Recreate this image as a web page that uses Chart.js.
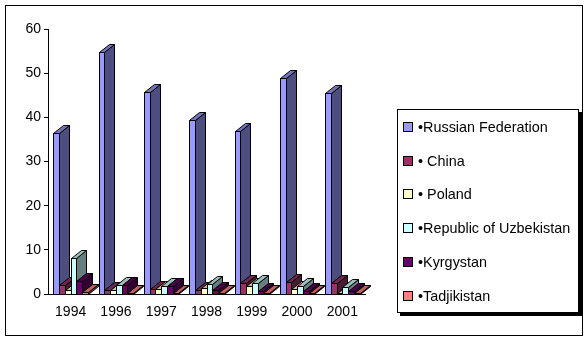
<!DOCTYPE html>
<html>
<head>
<meta charset="utf-8">
<script src="https://cdn.jsdelivr.net/npm/chart.js@4/dist/chart.umd.min.js"></script>
<style>
  html, body { margin: 0; padding: 0; background: #fff; }
  canvas { display: block; }
</style>
</head>
<body>
<canvas id="myChart" width="588" height="340"></canvas>
<script>
// data
const years = ['1994', '1996', '1997', '1998', '1999', '2000', '2001'];
const names = ['\u2022Russian Federation', '\u2022 China', '\u2022 Poland', '\u2022Republic of Uzbekistan', '\u2022Kyrgystan', '\u2022Tadjikistan'];
const russia = [36.4, 54.9, 45.8, 39.5, 36.9, 48.8, 45.4];
const china = [2.0, 0.9, 1.2, 1.0, 2.4, 2.8, 2.6];
const poland = [0.8, 0.8, 1.1, 1.4, 1.8, 1.1, 0.3];
const uzbek = [8.1, 2.0, 1.7, 2.2, 2.5, 1.7, 1.5];
const kyrgyz = [2.9, 2.0, 1.7, 1.0, 0.7, 0.7, 0.7];
const tadj = [0.4, 0.3, 0.3, 0.3, 0.3, 0.3, 0.3];
const yTicks = [0, 10, 20, 30, 40, 50, 60];

const colors = ['#9999FF', '#993366', '#FFFFCC', '#CCFFFF', '#660066', '#FF8080'];
const FONT = 'Liberation Sans, Arial, sans-serif';
const DX = 10, DY = 8;

function shade(hex, f) {
    const n = parseInt(hex.slice(1), 16);
    const r = Math.round(((n >> 16) & 255) * f),
        g = Math.round(((n >> 8) & 255) * f),
        b = Math.round((n & 255) * f);
    return 'rgb(' + r + ',' + g + ',' + b + ')';
}

function face(ctx, pts, fill) {
    ctx.beginPath();
    ctx.moveTo(pts[0][0] + 0.5, pts[0][1] + 0.5);
    for (let i = 1; i < pts.length; i++) ctx.lineTo(pts[i][0] + 0.5, pts[i][1] + 0.5);
    ctx.closePath();
    ctx.fillStyle = fill;
    ctx.fill();
    ctx.stroke();
}

// draws every bar as a 3d column, from the positions the bar elements got
const bars3d = {
    id: 'bars3d',
    beforeDatasetsDraw(chart) {
        const ctx = chart.ctx;
        ctx.save();
        ctx.lineWidth = 1;
        ctx.strokeStyle = '#000';
        ctx.lineJoin = 'miter';
        const metas = chart.data.datasets.map((d, i) => chart.getDatasetMeta(i));
        for (let j = 0; j < years.length; j++) {
            metas.forEach((meta, i) => {
                const bar = meta.data[j];
                const l = Math.round(bar.x - bar.width / 2),
                    r = Math.round(bar.x + bar.width / 2),
                    t = Math.round(bar.y),
                    b = Math.round(bar.base);
                const c = colors[i];
                face(ctx, [[l, b], [r, b], [r, t], [l, t]], c);
                face(ctx, [[r, b], [r + DX, b - DY], [r + DX, t - DY], [r, t]], shade(c, 0.5));
                face(ctx, [[l, t], [r, t], [r + DX, t - DY], [l + DX, t - DY]], shade(c, 0.75));
            });
        }
        ctx.restore();
        return false;
    }
};

// outer frame and legend box
const frame = {
    id: 'frame',
    beforeDraw(chart) {
        const ctx = chart.ctx;
        ctx.save();
        ctx.fillStyle = '#fff';
        ctx.fillRect(0, 0, chart.width, chart.height);
        ctx.restore();
    },
    afterDraw(chart) {
        const ctx = chart.ctx;
        ctx.save();
        ctx.strokeStyle = '#000';
        ctx.lineWidth = 1;
        ctx.strokeRect(5.5, 5.5, 577, 330);

        // legend shadow + box
        ctx.fillStyle = '#000';
        ctx.fillRect(579, 112, 3, 204);
        ctx.fillRect(400, 313, 182, 3);
        ctx.fillStyle = '#fff';
        ctx.fillRect(397, 109, 182, 204);
        ctx.strokeRect(397.5, 109.5, 181, 203);

        ctx.font = '14.4px ' + FONT;
        ctx.textBaseline = 'alphabetic';
        ctx.textAlign = 'left';
        names.forEach((n, i) => {
            const top = Math.round(122 + i * 33.7);
            ctx.fillStyle = colors[i];
            ctx.fillRect(403, top, 10, 10);
            ctx.strokeRect(403.5, top + 0.5, 9, 9);
            ctx.fillStyle = '#000';
            ctx.fillText(n, 418, top + 10);
        });
        ctx.restore();
    }
};

const series = [russia, china, poland, uzbek, kyrgyz, tadj];

const ctx = document.getElementById('myChart').getContext('2d');
const myChart = new Chart(ctx, {
    type: 'bar',
    data: {
        labels: years,
        datasets: series.map((s, i) => ({
            label: names[i],
            data: s,
            backgroundColor: colors[i]
        }))
    },
    options: {
        responsive: false,
        animation: false,
        devicePixelRatio: 1,
        layout: { padding: { left: 0, top: 29, right: 223, bottom: 0 } },
        datasets: { bar: { categoryPercentage: 0.76, barPercentage: 1 } },
        plugins: { legend: { display: false }, tooltip: { enabled: false } },
        scales: {
            x: {
                grid: { display: false, drawTicks: false },
                border: { display: true, color: '#000', width: 1 },
                ticks: { color: '#000', font: { family: FONT, size: 14 }, padding: 10, maxRotation: 0 },
                afterFit(scale) { scale.height = 46; }
            },
            y: {
                min: 0,
                max: 60,
                afterBuildTicks(scale) { scale.ticks = yTicks.map(v => ({ value: v })); },
                grid: { drawOnChartArea: false, drawTicks: true, tickLength: 4, color: '#000' },
                border: { display: true, color: '#000', width: 1 },
                ticks: { color: '#000', font: { family: FONT, size: 14 }, padding: 3 },
                afterFit(scale) { scale.width = 48; }
            }
        }
    },
    plugins: [frame, bars3d]
});
</script>
</body>
</html>
